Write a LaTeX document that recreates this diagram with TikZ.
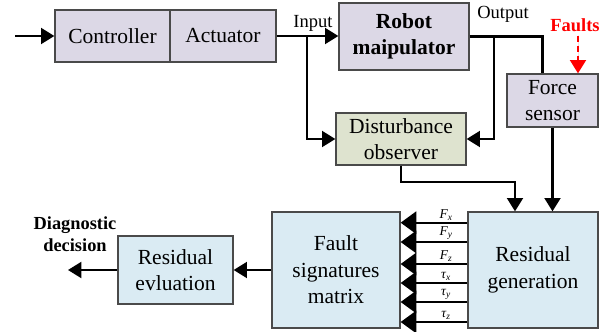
\documentclass[tikz,border=0pt]{standalone}
\usepackage{fontspec}
\setmainfont{Liberation Serif}
\usetikzlibrary{arrows.meta}
\definecolor{lav}{HTML}{DCD8E6}
\definecolor{olivefill}{HTML}{DEE3CF}
\definecolor{pale}{HTML}{DAEBF3}
\definecolor{edge}{HTML}{4A4A4A}
\definecolor{faultred}{HTML}{FF0000}

\tikzset{
  headarrow/.style={-{Triangle[scale length=1.45, scale width=1.5]}},
  fanarrow/.style={-{Triangle[scale length=1.7, scale width=2.1]}}
}

\begin{document}
\begin{tikzpicture}[x=1pt,y=-1pt,
  blk/.style={draw=edge, line width=1.3pt, inner sep=0pt, align=center,
              font=\fontsize{21.5}{26.5}\selectfont},
  wire/.style={line width=2.2pt},
  lbl/.style={inner sep=0pt, font=\fontsize{18.5}{22}\selectfont},
  sig/.style={inner sep=0pt, font=\fontsize{13.5}{15}\selectfont\itshape}]
\useasboundingbox (0,0) rectangle (611,332);

% blocks
\node[blk, fill=lav, minimum width=115, minimum height=52] (ctrl) at (112.5,36) {Controller};
\node[blk, fill=lav, minimum width=106, minimum height=52] (act) at (223,36) {Actuator};
\node[blk, fill=lav, minimum width=130, minimum height=67, font=\fontsize{21.5}{26.5}\selectfont\bfseries] (robot) at (404,36.5) {Robot\\maipulator};
\node[blk, fill=lav, minimum width=91, minimum height=53] (fs) at (552.5,100.5) {Force\\sensor};
\node[blk, fill=olivefill, minimum width=130, minimum height=52] (do) at (401,139) {Disturbance\\observer};
\node[blk, fill=pale, minimum width=128, minimum height=116] (fsm) at (336,270) {Fault\\signatures\\matrix};
\node[blk, fill=pale, minimum width=130, minimum height=116] (rg) at (533,270) {Residual\\generation};
\node[blk, fill=pale, minimum width=115, minimum height=68] (re) at (175.5,270) {Residual\\evluation};

% labels
\node[lbl] (inlbl) at (313,23) {Input};
\node[lbl] (outlbl) at (503,14) {Output};
\node[lbl, text=faultred, font=\fontsize{18.5}{22}\selectfont\bfseries] (faults) at (575,25) {Faults};
\node[lbl, align=center, font=\fontsize{18.4}{22}\selectfont\bfseries] (diag) at (75,234) {Diagnostic\\decision};

% free ends
\coordinate (src) at (15,36);
\coordinate (intap) at (307,36);
\coordinate (outtap) at (494,36.5);
\coordinate (dec) at (68,270);

% top loop
\draw[wire,headarrow] (src) -- (ctrl.west);
\draw[wire,headarrow] (act.east) -- (act.east -| robot.west);
\draw[wire,headarrow] (intap) |- (do.west);
\draw[wire] (robot.east) -| ([xshift=-10pt]fs.north);
\draw[wire,headarrow] (outtap) |- (do.east);
\draw[wire,headarrow,draw=faultred,fill=faultred,dash pattern=on 6pt off 4pt]
  ([xshift=3pt,yshift=-4pt]faults.south) -- ([xshift=3pt]faults.south |- fs.north);

% into residual generation
\draw[wire,headarrow] (do.south) -- ++(0,16) -| ([xshift=-18pt]rg.north);
\draw[wire,headarrow] (fs.south) -- (fs.south |- rg.north);

% residual signals
\foreach \y/\t in {222.7/{F\textsubscript{x}}, 242/{F\textsubscript{y}}, 264/{F\textsubscript{z}},
                   283/{τ\textsubscript{x}}, 302/{τ\textsubscript{y}}, 322/{τ\textsubscript{z}}} {
  \draw[wire,fanarrow] (rg.west |- 0,\y) -- (fsm.east |- 0,\y);
  \node[sig, anchor=south] at (446,\y-2) {\t};
}

% evaluation chain
\draw[wire,headarrow] (fsm.west) -- (re.east);
\draw[wire,headarrow] (re.west) -- (dec);
\end{tikzpicture}
\end{document}
